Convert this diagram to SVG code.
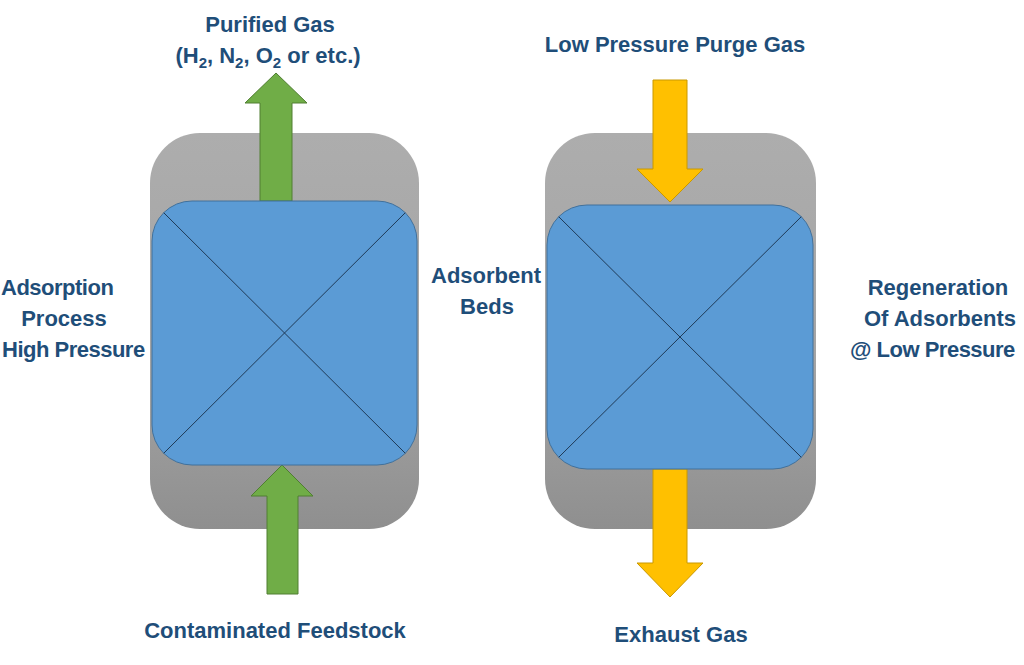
<svg xmlns="http://www.w3.org/2000/svg" width="1024" height="665" viewBox="0 0 1024 665">
<defs>
<linearGradient id="grayG" x1="0" y1="0" x2="0" y2="1">
<stop offset="0" stop-color="#adadad"/>
<stop offset="0.6" stop-color="#a3a3a3"/>
<stop offset="1" stop-color="#8f8f8f"/>
</linearGradient>
<style>
.vessel{fill:url(#grayG);}
.bed{fill:#5b9bd5;stroke:#41719c;stroke-width:1;}
.diag{stroke:#1f3a57;stroke-width:1;fill:none;}
.green{fill:#70ad47;stroke:#507e32;stroke-width:1;}
.yellow{fill:#ffc000;stroke:#c99800;stroke-width:1;}
text{font-family:"Liberation Sans",Arial,sans-serif;font-weight:bold;font-size:22px;fill:#1f4e79;}
.c{text-anchor:middle;}
.sub{font-size:15px;}
.tight{letter-spacing:-0.5px;}
</style>
</defs>
<rect width="1024" height="665" fill="#ffffff"/>

<g id="vessel-left">
<rect class="vessel" x="150" y="133" width="269" height="396" rx="50" ry="50"/>
</g>
<g id="vessel-right">
<rect class="vessel" x="545" y="133" width="271" height="396" rx="50" ry="50"/>
</g>

<g id="connectors">
<polygon id="arrow-purified" class="green" points="260,201 260,103 245,103 276,73 307,103 292,103 292,201"/>
<polygon id="arrow-feed" class="green" points="267,594 267,496 251,496 282,465 313,496 298,496 298,594"/>
<polygon id="arrow-purge" class="yellow" points="653,80 687,80 687,169 703,169 670,202 637,169 653,169"/>
<polygon id="arrow-exhaust" class="yellow" points="653,469 687,469 687,563 703,563 670,597 637,563 653,563"/>
</g>

<g id="bed-left">
<rect class="bed" x="152" y="201" width="265" height="264" rx="40" ry="40"/>
<line class="diag" x1="163.7" y1="212.7" x2="405.3" y2="453.3"/>
<line class="diag" x1="405.3" y1="212.7" x2="163.7" y2="453.3"/>
</g>
<g id="bed-right">
<rect class="bed" x="547" y="205" width="266" height="264" rx="40" ry="40"/>
<line class="diag" x1="558.7" y1="216.7" x2="801.3" y2="457.3"/>
<line class="diag" x1="801.3" y1="216.7" x2="558.7" y2="457.3"/>
</g>

<g id="label-purified">
<text class="c" x="270" y="32">Purified Gas</text>
<text class="c" x="268" y="63">(H<tspan class="sub" dy="5">2</tspan><tspan dy="-5">, N</tspan><tspan class="sub" dy="5">2</tspan><tspan dy="-5">, O</tspan><tspan class="sub" dy="5">2</tspan><tspan dy="-5"> or etc.)</tspan></text>
</g>
<g id="label-purge">
<text class="c" x="675" y="52">Low Pressure Purge Gas</text>
</g>
<g id="label-adsorption">
<text class="tight" x="1" y="295">Adsorption</text>
<text class="c" x="64" y="326">Process</text>
<text class="tight" x="2" y="357">High Pressure</text>
</g>
<g id="label-beds">
<text class="c" x="486" y="283">Adsorbent</text>
<text class="c" x="487" y="314">Beds</text>
</g>
<g id="label-regeneration">
<text class="c" x="938" y="295">Regeneration</text>
<text class="c" x="940" y="326">Of Adsorbents</text>
<text class="tight" x="850" y="357">@ Low Pressure</text>
</g>
<g id="label-feed">
<text class="c" x="275" y="638">Contaminated Feedstock</text>
</g>
<g id="label-exhaust">
<text class="c" x="681" y="642">Exhaust Gas</text>
</g>
</svg>
